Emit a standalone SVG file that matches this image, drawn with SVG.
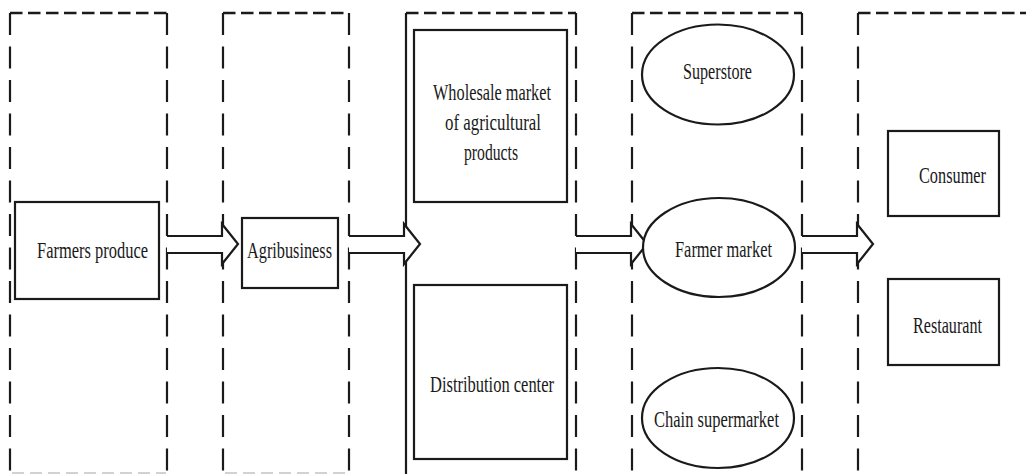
<svg xmlns="http://www.w3.org/2000/svg" width="1026" height="474" viewBox="0 0 1026 474">
<style>
.bg{fill:#ffffff}
.dh{fill:none;stroke:#1a1a1a;stroke-width:2.5;stroke-dasharray:12.5 5.5}
.dv{fill:none;stroke:#1a1a1a;stroke-width:2.2;stroke-dasharray:22 11.5}
.db{fill:none;stroke:#c4c4c4;stroke-width:1.5;stroke-dasharray:12 6}
.sv{fill:none;stroke:#1a1a1a;stroke-width:2.2}
.box{fill:#ffffff;stroke:#1a1a1a;stroke-width:2.2}
.arr{fill:#ffffff;stroke:#1a1a1a;stroke-width:2.2;stroke-linejoin:miter}
.t{font-family:"Liberation Serif","Times New Roman","DejaVu Serif",serif;font-size:24px;fill:#1a1a1a}
</style>
<rect class="bg" x="0" y="0" width="1026" height="474"/>
<g id="stages">
  <g id="stage1">
    <path class="dh" d="M10,13 H167"/>
    <path class="dv" d="M10,13 V474"/>
    <path class="dv" d="M167,13 V474"/>
    <path class="db" d="M12,473 H166"/>
  </g>
  <g id="stage2">
    <path class="dh" d="M223,13 H349"/>
    <path class="dv" d="M223,13 V474"/>
    <path class="dv" d="M349,13 V474"/>
    <path class="db" d="M225,473 H348"/>
  </g>
  <g id="stage3">
    <path class="dh" d="M406,13 H576"/>
    <path class="sv" d="M406,13 V474"/>
    <path class="dv" d="M576,13 V474"/>
  </g>
  <g id="stage4">
    <path class="dh" d="M632,13 H802"/>
    <path class="dv" d="M632,13 V474"/>
    <path class="dv" d="M802,13 V474"/>
  </g>
  <g id="stage5">
    <path class="dh" d="M858,13 H1030"/>
    <path class="dv" d="M858,13 V474"/>
  </g>
</g>
<g id="connectors">
  <path class="arr" d="M167,236 H222 V224 L238,244 L222,264 V253 H167"/>
  <path class="arr" d="M349,236 H404 V224 L420,244 L404,264 V253 H349"/>
  <path class="arr" d="M576,236 H631 V224 L647,244 L631,264 V253 H576"/>
  <path class="arr" d="M802,236 H857 V224 L873,244 L857,264 V253 H802"/>
</g>
<g id="farmers-produce">
  <rect class="box" x="15" y="202" width="144" height="97"/>
  <text class="t" x="37" y="258" textLength="111" lengthAdjust="spacingAndGlyphs">Farmers produce</text>
</g>
<g id="agribusiness">
  <rect class="box" x="242" y="218" width="96" height="70"/>
  <text class="t" x="247" y="258" textLength="85" lengthAdjust="spacingAndGlyphs">Agribusiness</text>
</g>
<g id="wholesale-market">
  <rect class="box" x="414" y="30" width="153" height="172"/>
  <text class="t" x="433" y="100" textLength="118" lengthAdjust="spacingAndGlyphs">Wholesale market</text>
  <text class="t" x="445" y="130" textLength="96" lengthAdjust="spacingAndGlyphs">of agricultural</text>
  <text class="t" x="464" y="160" textLength="54" lengthAdjust="spacingAndGlyphs">products</text>
</g>
<g id="distribution-center">
  <rect class="box" x="414" y="285" width="153" height="174"/>
  <text class="t" x="430" y="392" textLength="124" lengthAdjust="spacingAndGlyphs">Distribution center</text>
</g>
<g id="superstore">
  <ellipse class="box" cx="718" cy="74.5" rx="76" ry="50"/>
  <text class="t" x="683" y="79" textLength="69" lengthAdjust="spacingAndGlyphs">Superstore</text>
</g>
<g id="farmer-market">
  <ellipse class="box" cx="719" cy="247.5" rx="76" ry="49.5"/>
  <text class="t" x="675" y="257" textLength="97" lengthAdjust="spacingAndGlyphs">Farmer market</text>
</g>
<g id="chain-supermarket">
  <ellipse class="box" cx="718" cy="418" rx="76" ry="50"/>
  <text class="t" x="654" y="427" textLength="125" lengthAdjust="spacingAndGlyphs">Chain supermarket</text>
</g>
<g id="consumer">
  <rect class="box" x="888" y="131" width="111" height="85"/>
  <text class="t" x="919" y="183" textLength="67" lengthAdjust="spacingAndGlyphs">Consumer</text>
</g>
<g id="restaurant">
  <rect class="box" x="888" y="279" width="111" height="86"/>
  <text class="t" x="913" y="333" textLength="69" lengthAdjust="spacingAndGlyphs">Restaurant</text>
</g>
</svg>
